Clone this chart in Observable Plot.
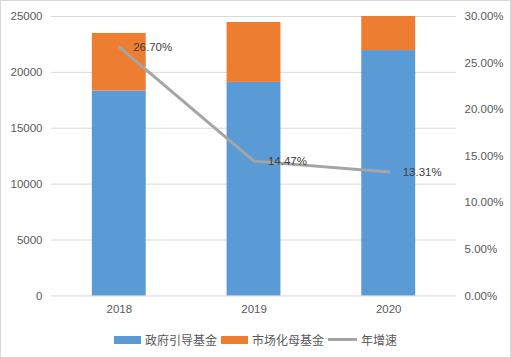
<!DOCTYPE html>
<html><head><meta charset="utf-8">
<script src="https://cdn.jsdelivr.net/npm/d3@7"></script>
<script src="https://cdn.jsdelivr.net/npm/@observablehq/plot@0.6"></script>
<style>
html,body{margin:0;padding:0;background:#fff;}
#frame{position:relative;width:511px;height:358px;box-sizing:border-box;border:1px solid #d9d9d9;overflow:hidden;font-family:"Liberation Sans","Noto Sans CJK SC",sans-serif;}
#chart{position:absolute;left:-1px;top:-1px;}
#legend{position:absolute;left:0;right:0;top:330px;display:flex;justify-content:center;align-items:center;font-size:12px;color:#595959;font-family:"Noto Sans CJK SC",sans-serif;}
.item{display:flex;align-items:center;margin:0 2px;}
.sw{display:inline-block;width:27px;height:8px;margin-right:4px;}
.ln{display:inline-block;width:29px;height:3px;margin-right:4px;}
</style></head>
<body>
<div id="frame"><div id="chart"></div><div id="legend"></div></div>
<script>
const years = ["2018", "2019", "2020"];
const seriesNames = ["政府引导基金", "市场化母基金", "年增速"];
const govFund = [18330, 19100, 21950];
const marketFund = [5150, 5360, 3050];
const growth = [0.2670, 0.1447, 0.1331];
const leftTicks = [0, 5000, 10000, 15000, 20000, 25000];
const rightTicks = [0, 0.05, 0.10, 0.15, 0.20, 0.25, 0.30];
const colors = ["#5b9bd5", "#ed7d31", "#a5a5a5"];

const yMax = 25000, pMax = 0.30;
const toY = p => p * yMax / pMax;

const bars = [];
years.forEach((y, i) => {
  bars.push({year: y, series: seriesNames[0], value: govFund[i]});
  bars.push({year: y, series: seriesNames[1], value: marketFund[i]});
});
const lineData = years.map((y, i) => ({year: y, g: growth[i]}));

const plot = Plot.plot({
  width: 511, height: 320,
  marginLeft: 51, marginRight: 54, marginTop: 16, marginBottom: 24,
  style: {fontFamily: "Liberation Sans, sans-serif", fontSize: "11.5px", color: "#595959", background: "transparent"},
  x: {domain: years, paddingInner: 0.6, paddingOuter: 0.3, label: null},
  y: {domain: [0, yMax], label: null},
  color: {domain: seriesNames, range: colors},
  marks: [
    Plot.gridY(leftTicks, {stroke: "#d9d9d9", strokeOpacity: 1}),
    Plot.barY(bars, {x: "year", y: "value", fill: "series", order: seriesNames.slice(0,2)}),
    Plot.line(lineData, {x: "year", y: d => toY(d.g), stroke: colors[2], strokeWidth: 3}),
    Plot.text(lineData, {x: "year", y: d => toY(d.g), text: d => (d.g*100).toFixed(2) + "%", dx: 14, textAnchor: "start", fill: "#404040", fontSize: 11.5}),
    Plot.axisY(leftTicks, {anchor: "left", tickSize: 0, tickPadding: 9, tickFormat: d => String(d), fill: "#595959"}),
    Plot.axisY(rightTicks.map(toY), {anchor: "right", tickSize: 0, tickPadding: 8, textAnchor: "start", tickFormat: d => (d / yMax * pMax * 100).toFixed(2) + "%", fill: "#595959"}),
    Plot.axisX({tickSize: 0, tickPadding: 9, fill: "#595959"})
  ]
});
document.getElementById("chart").appendChild(plot);

const legend = document.getElementById("legend");
seriesNames.forEach((name, i) => {
  const it = document.createElement("span");
  it.className = "item";
  const sw = document.createElement("span");
  sw.className = i < 2 ? "sw" : "ln";
  sw.style.background = colors[i];
  it.appendChild(sw);
  it.appendChild(document.createTextNode(name));
  legend.appendChild(it);
});
</script>
</body></html>
